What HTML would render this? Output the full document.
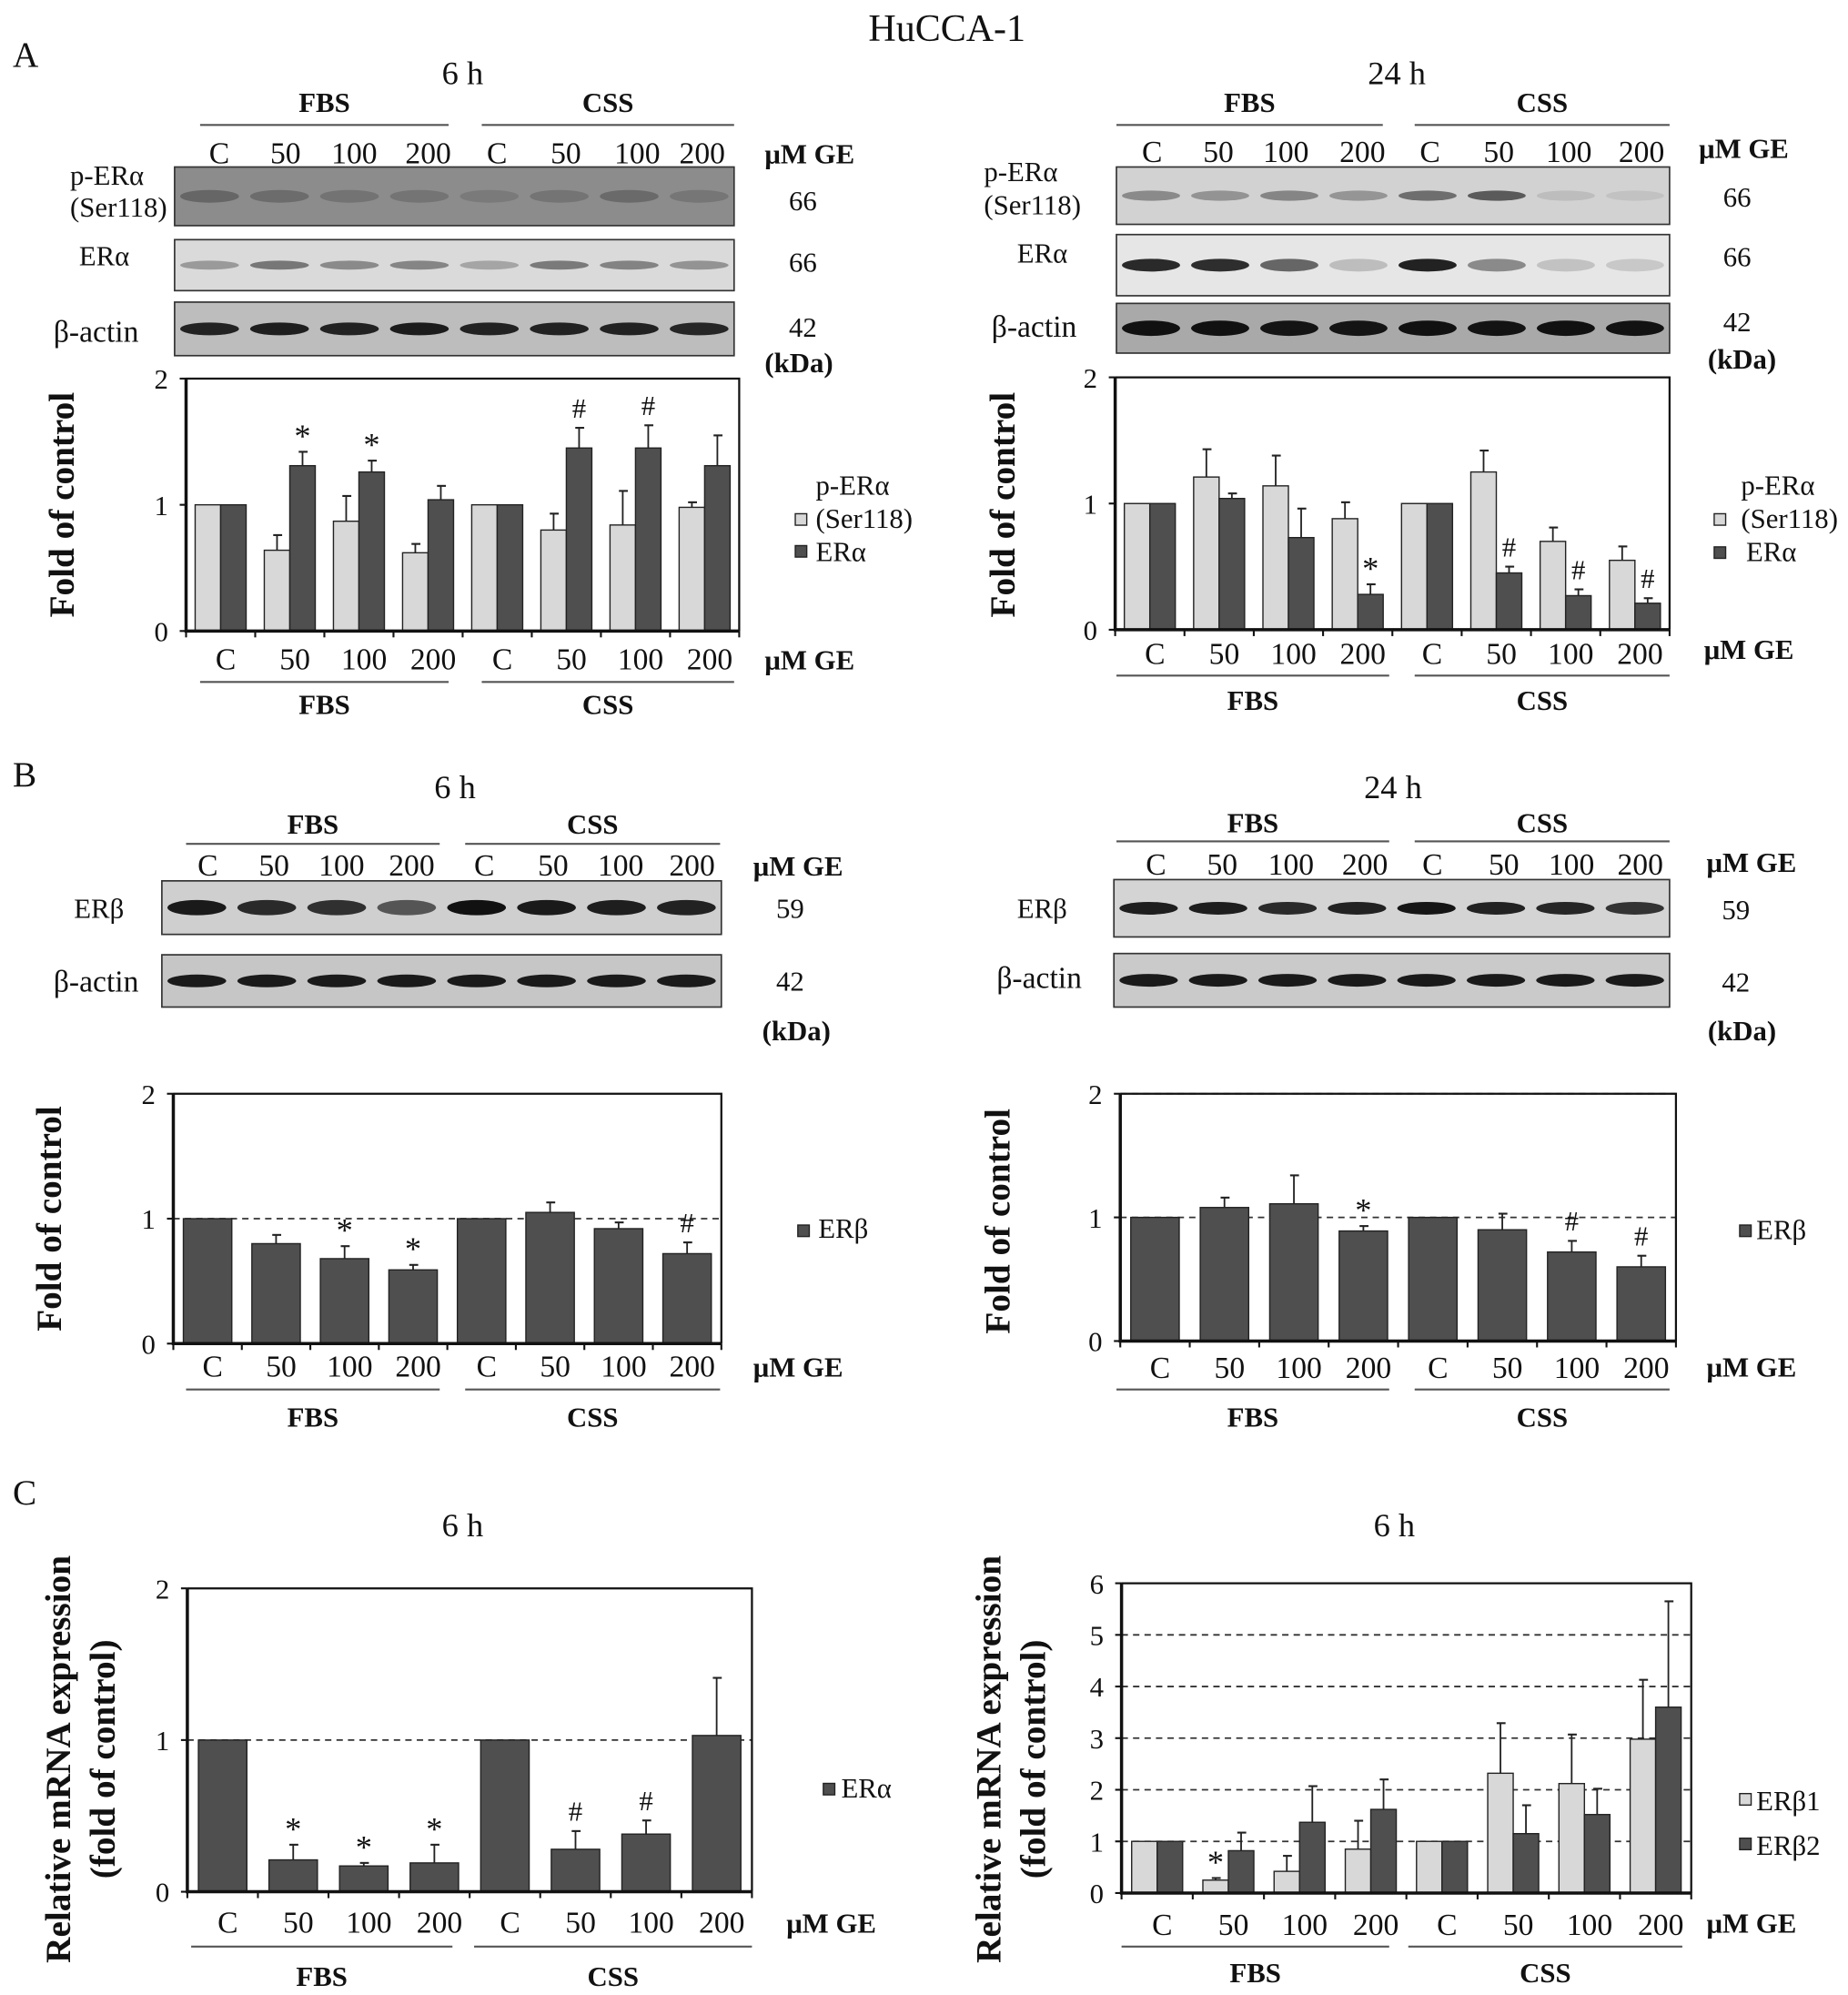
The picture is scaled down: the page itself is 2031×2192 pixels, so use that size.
<!DOCTYPE html>
<html><head><meta charset="utf-8">
<style>
html,body{margin:0;padding:0;background:#fff;}
svg{display:block;}
text{font-family:"Liberation Serif","DejaVu Serif",serif;fill:#111;}
.b{font-weight:bold;}
</style></head>
<body>
<svg id="fig" xmlns="http://www.w3.org/2000/svg" width="2031" height="2192" viewBox="0 0 1450 1565" preserveAspectRatio="none">
<text x="743" y="32" font-size="30" text-anchor="middle">HuCCA-1</text>
<text x="10" y="52" font-size="28">A</text>
<text x="10" y="617" font-size="28">B</text>
<text x="10" y="1180" font-size="28">C</text>
</svg>
<script>
// ---- data ----
const lanes = ["C","50","100","200","C","50","100","200"];
const groups = ["FBS","CSS"];
const aL_pera = [1,0.64,0.87,0.62,1,0.80,0.84,0.98];
const aL_pera_err = [0,0.12,0.20,0.07,0,0.13,0.27,0.04];
const aL_era = [1,1.31,1.26,1.04,1,1.45,1.45,1.31];
const aL_era_err = [0,0.11,0.09,0.11,0,0.16,0.18,0.24];
const aL_marks = ["","*","*","","","#","#",""];
const aR_pera = [1,1.21,1.14,0.88,1,1.25,0.70,0.55];
const aR_pera_err = [0,0.22,0.24,0.13,0,0.17,0.11,0.11];
const aR_era = [1,1.04,0.73,0.28,1,0.45,0.27,0.21];
const aR_era_err = [0,0.04,0.23,0.08,0,0.05,0.05,0.04];
const aR_marks = ["","","","*","","#","#","#"];
const bL_erb = [1,0.80,0.68,0.59,1,1.05,0.92,0.72];
const bL_erb_err = [0,0.07,0.10,0.04,0,0.08,0.05,0.09];
const bL_marks = ["","","*","*","","","","#"];
const bR_erb = [1,1.08,1.11,0.89,1,0.90,0.72,0.60];
const bR_erb_err = [0,0.08,0.23,0.04,0,0.13,0.09,0.09];
const bR_marks = ["","","","*","","","#","#"];
const cL_era = [1,0.21,0.17,0.19,1,0.28,0.38,1.03];
const cL_era_err = [0,0.10,0.02,0.12,0,0.12,0.09,0.38];
const cL_marks = ["","*","*","*","","#","#",""];
const cR_erb1 = [1,0.25,0.42,0.85,1,2.32,2.12,2.98];
const cR_erb1_err = [0,0.04,0.30,0.55,0,0.97,0.95,1.15];
const cR_erb2 = [1,0.82,1.37,1.62,1,1.15,1.52,3.60];
const cR_erb2_err = [0,0.35,0.70,0.58,0,0.55,0.50,2.05];
const cR_marks1 = ["","*","","","","","",""];
const ticks2 = [0,1,2];
const ticks6 = [0,1,2,3,4,5,6];

const NS="http://www.w3.org/2000/svg";
const svg=document.getElementById('fig');
const LIGHT="#d8d8d8", DARK="#4f4f4f";
function el(tag,attrs,parent){const e=document.createElementNS(NS,tag);for(const k in attrs)e.setAttribute(k,attrs[k]);(parent||svg).appendChild(e);return e;}
function txt(x,y,s,size,opts){const t=el('text',{x:x,y:y,'font-size':size,'text-anchor':(opts&&opts.anchor)||'middle'});if(opts&&opts.bold)t.setAttribute('class','b');if(opts&&opts.rot)t.setAttribute('transform','rotate(-90 '+x+' '+y+')');t.textContent=s;return t;}

function laneRow(xs,y,size){xs.forEach((x,i)=>{const t=txt(x,y,lanes[i],size);

});}
function groupBar(fx1,fx2,cx1,cx2,ly,ty){
 [[fx1,fx2,groups[0]],[cx1,cx2,groups[1]]].forEach(g=>{
  const l=el('line',{x1:g[0],x2:g[1],y1:ly,y2:ly,stroke:'#555','stroke-width':1.5});
  
  
  const t=txt((g[0]+g[1])/2,ty,g[2],22,{bold:true});
  
  
 });
}
function blot(x1,x2,y1,y2,bg,band,bandW,name){
 const r=el('rect',{x:x1,y:y1,width:x2-x1,height:y2-y1,fill:bg,stroke:'#333','stroke-width':1.2});
 
 
 const w=(x2-x1)/8;
 for(let i=0;i<8;i++){const c=band[i];if(!c)continue;
  const b=el('ellipse',{cx:x1+w*(i+0.5),cy:(y1+y2)/2,rx:w*0.42,ry:bandW,fill:c});
  
  }
}

function chart(cfg){
 const {x0,x1,y0,yTop,max,ticks,series,errs,marks,dashed,boxTop,name}=cfg;
 const ys=v=>y0-(v/max)*(y0-yTop);
 const gw=(x1-x0)/8;
 const g=el('g',{});
 
 
 if(dashed){ticks.forEach(t=>{if(t===0)return;if(t===max&&!cfg.dashTop)return;
  const d=el('line',{x1:x0,x2:x1,y1:ys(t),y2:ys(t),stroke:'#333','stroke-width':1.3,'stroke-dasharray':'5,4'},g);
  
  });}
 const n=series.length;
 const bw=n===2?20:38;
 series.forEach((s,si)=>{
  s.data.forEach((v,i)=>{
   const cx=x0+gw*(i+0.5);
   const bx=n===2?cx-bw+si*bw:cx-bw/2;
   const r=el('rect',{x:bx,y:ys(v),width:bw,height:y0-ys(v),fill:s.color,stroke:'#222','stroke-width':1},g);
   
   
   const e=errs[si][i];
   if(e>0){const ex=bx+bw/2;
    const l1=el('line',{x1:ex,x2:ex,y1:ys(v),y2:ys(v+e),stroke:'#222','stroke-width':1.3},g);
    
    
    const l2=el('line',{x1:ex-3,x2:ex+4,y1:ys(v+e),y2:ys(v+e),stroke:'#222','stroke-width':1.5},g);
    
    }
   const m=marks[si]&&marks[si][i];
   if(m){const t=txt(bx+bw/2,ys(v+e)-(m==='*'?4:8),m,m==='*'?26:22,{});
    
    }
  });
 });
 const ax=el('path',{d:`M${x0},${yTop} L${x0},${y0} L${x1},${y0}`,fill:'none',stroke:'#111','stroke-width':2.5},g);
 
 
 if(boxTop){const fr=el('path',{d:`M${x0},${yTop} L${x1},${yTop} L${x1},${y0}`,fill:'none',stroke:'#111','stroke-width':1.6},g);
  
  }
 ticks.forEach(t=>{const y=ys(t);
  const tl=el('line',{x1:x0-5,x2:x0,y1:y,y2:y,stroke:'#111','stroke-width':1.5},g);
  
  
  const lb=txt(x0-14,y+8,String(t),22,{anchor:'end'});
  
  });
 for(let i=0;i<=8;i++){const x=x0+gw*i;
  const tk=el('line',{x1:x,x2:x,y1:y0,y2:y0+5,stroke:'#111','stroke-width':1.5},g);
  
  }
 return {gw:gw};
}
function legendSq(x,y,c){
 const r=el('rect',{x:x,y:y-5,width:9,height:9,fill:c,stroke:'#222','stroke-width':1});
 
 
}
function legendText(x,y,s,name){const t=txt(x,y,s,22,{anchor:'start'});
 
 }
function label(x,y,s,size,name,opts){const t=txt(x,y,s,size,opts||{});
 
 }
function lanesAt(x0,x1,y){const gw=(x1-x0)/8;laneRow(lanes.map((_,i)=>x0+gw*(i+0.5)+4),y,24);}

// ===== Panel A left =====
label(363,66,"6 h",26,'time-label-a-left');
groupBar(157,352,378,576,98,88);
laneRow([172,224,278,336,390,444,500,551],128,24);
label(600,128,"μM GE",22,'dose-unit-label',{anchor:'start',bold:true});
blot(137,576,131,177,'#8c8c8c',['#666','#6c6c6c','#737373','#747474','#7a7a7a','#747474','#6a6a6a','#767676'],5,'blot-p-era-6h');
blot(137,576,188,228,'#dadada',['#9a9a9a','#777','#8a8a8a','#858585','#a5a5a5','#7a7a7a','#838383','#939393'],3.5,'blot-era-6h');
blot(137,576,237,279,'#bdbdbd',['#222','#1e1e1e','#222','#1c1c1c','#222','#222','#222','#262626'],5,'blot-bactin-6h');
label(55,145,"p-ERα",22,'blot-label-p-era',{anchor:'start'});
label(55,170,"(Ser118)",22,'blot-label-ser118',{anchor:'start'});
label(62,208,"ERα",22,'blot-label-era',{anchor:'start'});
label(42,268,"β-actin",24,'blot-label-bactin',{anchor:'start'});
label(630,165,"66",22,'kda-66');label(630,213,"66",22,'kda-66');label(630,264,"42",22,'kda-42');
label(600,292,"(kDa)",22,'kda-unit',{anchor:'start',bold:true});
chart({name:'chart-a-6h',x0:146,x1:580,y0:495,yTop:297,max:2,ticks:ticks2,boxTop:true,
 series:[{key:'p-era',data:aL_pera,color:LIGHT},{key:'era',data:aL_era,color:DARK}],
 errs:[aL_pera_err,aL_era_err],marks:[null,aL_marks]});
label(58,396,"Fold of control",28,'y-axis-title-a-left',{bold:true,rot:true});
lanesAt(146,580,525);
label(600,525,"μM GE",22,'dose-unit-label',{anchor:'start',bold:true});
groupBar(157,352,378,576,535,560);
legendSq(624,408,LIGHT);legendSq(624,433,DARK);
legendText(640,388,"p-ERα",'legend-p-era');legendText(640,414,"(Ser118)",'legend-ser118');legendText(640,440,"ERα",'legend-era');

// ===== Panel A right =====
label(1096,66,"24 h",26,'time-label-a-right');
groupBar(876,1085,1110,1310,98,88);
laneRow([904,956,1009,1069,1122,1176,1231,1288],127,24);
label(1333,124,"μM GE",22,'dose-unit-label',{anchor:'start',bold:true});
blot(876,1310,131,176,'#d2d2d2',['#8a8a8a','#939393','#858585','#959595','#6e6e6e','#5a5a5a','#bdbdbd','#c2c2c2'],4,'blot-p-era-24h');
blot(876,1310,184,232,'#e6e6e6',['#2a2a2a','#2e2e2e','#666','#bdbdbd','#222','#8a8a8a','#c2c2c2','#c8c8c8'],5,'blot-era-24h');
blot(876,1310,238,277,'#a9a9a9',['#111','#111','#141414','#141414','#111','#131313','#111','#121212'],6,'blot-bactin-24h');
label(772,142,"p-ERα",22,'blot-label-p-era',{anchor:'start'});
label(772,168,"(Ser118)",22,'blot-label-ser118',{anchor:'start'});
label(798,206,"ERα",22,'blot-label-era',{anchor:'start'});
label(778,264,"β-actin",24,'blot-label-bactin',{anchor:'start'});
label(1363,162,"66",22,'kda-66');label(1363,209,"66",22,'kda-66');label(1363,260,"42",22,'kda-42');
label(1340,289,"(kDa)",22,'kda-unit',{anchor:'start',bold:true});
chart({name:'chart-a-24h',x0:875,x1:1310,y0:494,yTop:296,max:2,ticks:ticks2,boxTop:true,
 series:[{key:'p-era',data:aR_pera,color:LIGHT},{key:'era',data:aR_era,color:DARK}],
 errs:[aR_pera_err,aR_era_err],marks:[null,aR_marks]});
label(796,396,"Fold of control",28,'y-axis-title-a-right',{bold:true,rot:true});
lanesAt(875,1310,521);
label(1337,517,"μM GE",22,'dose-unit-label',{anchor:'start',bold:true});
groupBar(876,1090,1110,1310,530,557);
legendSq(1345,408,LIGHT);legendSq(1345,434,DARK);
legendText(1366,388,"p-ERα",'legend-p-era');legendText(1366,414,"(Ser118)",'legend-ser118');legendText(1370,440,"ERα",'legend-era');

// ===== Panel B left =====
label(357,626,"6 h",26,'time-label-b-left');
groupBar(146,345,365,565,662,654);
laneRow([163,215,268,323,380,434,487,543],687,24);
label(591,687,"μM GE",22,'dose-unit-label',{anchor:'start',bold:true});
blot(127,566,691,733,'#cfcfcf',['#1a1a1a','#2a2a2a','#303030','#555','#111','#1a1a1a','#1e1e1e','#222'],6,'blot-erb-6h');
blot(127,566,749,790,'#c6c6c6',['#1a1a1a','#1a1a1a','#1a1a1a','#1a1a1a','#1a1a1a','#1a1a1a','#1a1a1a','#1a1a1a'],5,'blot-bactin-b-6h');
label(58,720,"ERβ",22,'blot-label-erb',{anchor:'start'});
label(42,778,"β-actin",24,'blot-label-bactin',{anchor:'start'});
label(620,720,"59",22,'kda-59');label(620,777,"42",22,'kda-42');
label(598,816,"(kDa)",22,'kda-unit',{anchor:'start',bold:true});
chart({name:'chart-b-6h',x0:136,x1:566,y0:1054,yTop:858,max:2,ticks:ticks2,boxTop:true,dashed:true,
 series:[{key:'erb',data:bL_erb,color:DARK}],errs:[bL_erb_err],marks:[bL_marks]});
label(48,956,"Fold of control",28,'y-axis-title-b-left',{bold:true,rot:true});
lanesAt(136,566,1080);
label(591,1080,"μM GE",22,'dose-unit-label',{anchor:'start',bold:true});
groupBar(146,345,365,565,1090,1119);
legendSq(626,966,DARK);legendText(642,971,"ERβ",'legend-erb');

// ===== Panel B right =====
label(1093,626,"24 h",26,'time-label-b-right');
groupBar(876,1090,1110,1310,660,653);
laneRow([907,959,1013,1071,1124,1180,1233,1287],686,24);
label(1339,684,"μM GE",22,'dose-unit-label',{anchor:'start',bold:true});
blot(874,1310,690,735,'#d4d4d4',['#1e1e1e','#1e1e1e','#2a2a2a','#222','#151515','#222','#262626','#333'],5,'blot-erb-24h');
blot(874,1310,748,790,'#cacaca',['#1a1a1a','#1a1a1a','#1a1a1a','#1a1a1a','#1a1a1a','#1a1a1a','#1a1a1a','#1a1a1a'],5,'blot-bactin-b-24h');
label(798,720,"ERβ",22,'blot-label-erb',{anchor:'start'});
label(782,775,"β-actin",24,'blot-label-bactin',{anchor:'start'});
label(1362,721,"59",22,'kda-59');label(1362,778,"42",22,'kda-42');
label(1340,816,"(kDa)",22,'kda-unit',{anchor:'start',bold:true});
chart({name:'chart-b-24h',x0:879,x1:1315,y0:1052,yTop:858,max:2,ticks:ticks2,boxTop:true,dashed:true,dashTop:true,
 series:[{key:'erb',data:bR_erb,color:DARK}],errs:[bR_erb_err],marks:[bR_marks]});
label(792,958,"Fold of control",28,'y-axis-title-b-right',{bold:true,rot:true});
lanesAt(879,1315,1081);
label(1339,1080,"μM GE",22,'dose-unit-label',{anchor:'start',bold:true});
groupBar(876,1090,1110,1310,1090,1119);
legendSq(1365,966,DARK);legendText(1378,972,"ERβ",'legend-erb');

// ===== Panel C left =====
label(363,1205,"6 h",26,'time-label-c-left');
chart({name:'chart-c-left',x0:147,x1:590,y0:1484,yTop:1246,max:2,ticks:ticks2,boxTop:true,dashed:true,
 series:[{key:'era-mrna',data:cL_era,color:DARK}],errs:[cL_era_err],marks:[cL_marks]});
label(55,1380,"Relative mRNA expression",28,'y-axis-title-c-left-1',{bold:true,rot:true});
label(90,1380,"(fold of control)",28,'y-axis-title-c-left-2',{bold:true,rot:true});
lanesAt(147,590,1516);
label(617,1516,"μM GE",22,'dose-unit-label',{anchor:'start',bold:true});
groupBar(150,355,372,590,1527,1558);
legendSq(646,1404,DARK);legendText(660,1410,"ERα",'legend-era-mrna');

// ===== Panel C right =====
label(1094,1205,"6 h",26,'time-label-c-right');
chart({name:'chart-c-right',x0:880,x1:1327,y0:1485,yTop:1242,max:6,ticks:ticks6,boxTop:true,dashed:true,
 series:[{key:'erb1',data:cR_erb1,color:LIGHT},{key:'erb2',data:cR_erb2,color:DARK}],
 errs:[cR_erb1_err,cR_erb2_err],marks:[cR_marks1,null]});
label(785,1380,"Relative mRNA expression",28,'y-axis-title-c-right-1',{bold:true,rot:true});
label(820,1380,"(fold of control)",28,'y-axis-title-c-right-2',{bold:true,rot:true});
lanesAt(880,1327,1518);
label(1339,1516,"μM GE",22,'dose-unit-label',{anchor:'start',bold:true});
groupBar(880,1090,1105,1320,1527,1555);
legendSq(1365,1412,LIGHT);legendSq(1365,1447,DARK);
legendText(1378,1420,"ERβ1",'legend-erb1');legendText(1378,1455,"ERβ2",'legend-erb2');
</script>
</body></html>
